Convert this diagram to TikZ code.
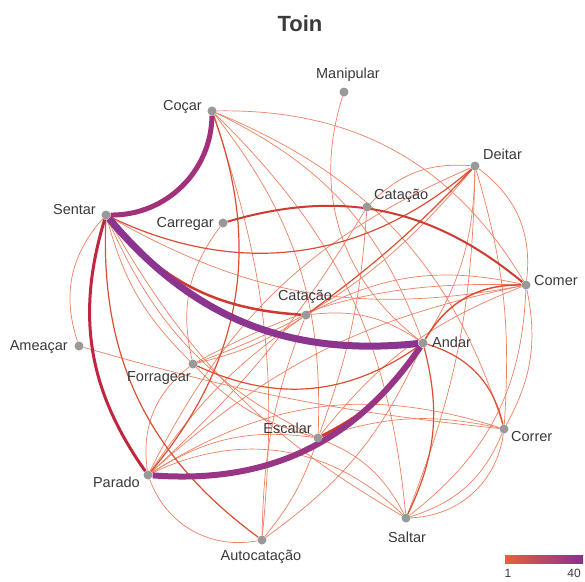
\documentclass[tikz,border=0pt]{standalone}
\usepackage{fontspec}
\setmainfont{Liberation Sans}
\pgfdeclarelayer{bg}
\pgfdeclarelayer{paper}
\pgfsetlayers{paper,bg,main}
\definecolor{edgethin}{HTML}{EF8062}
\definecolor{edgemed}{HTML}{DC4E33}
\definecolor{edgered}{HTML}{CF3B30}
\definecolor{crimsonedge}{HTML}{C0263F}
\definecolor{purpA}{HTML}{8C3590}
\definecolor{purpB}{HTML}{A3307B}
\definecolor{purpC}{HTML}{993585}
\definecolor{dotgray}{HTML}{999999}
\definecolor{txt}{HTML}{3A3A3A}
\definecolor{barlow}{HTML}{E8603C}
\definecolor{barhigh}{HTML}{8B2F8F}
\tikzset{
  dot/.style={circle, fill=dotgray, inner sep=0pt, minimum size=9pt},
  lbl/.style={text=txt, font=\fontsize{14.5}{16}\selectfont, inner sep=0pt},
  thinedge/.style={draw=edgethin, line width=0.7pt},
  mededge/.style={draw=edgemed, line width=1.2pt},
}
\begin{document}
\begin{tikzpicture}[x=1pt,y=1pt]
\begin{pgfonlayer}{paper}
\fill[white] (0,0) rectangle (585,-581);
\end{pgfonlayer}
\useasboundingbox (0,0) rectangle (585,-581);

% title
\node[text=txt, font=\fontsize{22}{26}\selectfont\bfseries] (title) at (300,-24) {Toin};

% nodes
\node[dot] (manip) at (344,-92) {};
\node[dot] (cocar) at (212,-111) {};
\node[dot] (deitar) at (475,-166) {};
\node[dot] (catA) at (367,-207) {};
\node[dot] (sentar) at (106,-215) {};
\node[dot] (carregar) at (223,-223) {};
\node[dot] (comer) at (526,-285) {};
\node[dot] (catB) at (306,-315) {};
\node[dot] (andar) at (423,-343) {};
\node[dot] (ameacar) at (79,-346) {};
\node[dot] (forragear) at (193,-364) {};
\node[dot] (escalar) at (318,-438) {};
\node[dot] (correr) at (504,-429) {};
\node[dot] (parado) at (148,-475) {};
\node[dot] (saltar) at (406,-518) {};
\node[dot] (autocat) at (262,-540) {};

% labels
\node[lbl] (lmanip) at (348,-75) {Manipular};
\node[lbl, anchor=east] (lcocar) at (202,-107) {Coçar};
\node[lbl, anchor=west] (ldeitar) at (483,-154) {Deitar};
\node[lbl, anchor=west] (lcatA) at (374,-196) {Catação};
\node[lbl, anchor=east] (lsentar) at (96,-210) {Sentar};
\node[lbl, anchor=east] (lcarregar) at (214,-224) {Carregar};
\node[lbl, anchor=west] (lcomer) at (534,-281) {Comer};
\node[lbl] (lcatB) at (305,-297) {Catação};
\node[lbl, anchor=west] (landar) at (432,-342) {Andar};
\node[lbl, anchor=east] (lameacar) at (68,-347) {Ameaçar};
\node[lbl, anchor=east] (lforragear) at (191,-378) {Forragear};
\node[lbl, anchor=east] (lescalar) at (312,-428) {Escalar};
\node[lbl, anchor=west] (lcorrer) at (511,-436) {Correr};
\node[lbl, anchor=east] (lparado) at (140,-482) {Parado};
\node[lbl] (lsaltar) at (407,-537) {Saltar};
\node[lbl] (lautocat) at (261,-557) {Autocatação};

% colour bar
\node[inner sep=0pt, minimum width=78pt, minimum height=8pt, left color=barlow, right color=barhigh] (bar) at (544,-559) {};
\node[text=txt, font=\fontsize{12}{14}\selectfont] (bar1) at (508,-573) {1};
\node[text=txt, font=\fontsize{12}{14}\selectfont] (bar40) at (574,-573) {40};

\begin{pgfonlayer}{bg}
% thin edges
\draw[thinedge] (cocar) to[bend left=30] (comer);
\draw[thinedge] (cocar) to[bend left=25] (correr);
\draw[thinedge] (cocar) to[bend left=20] (saltar);
\draw[thinedge] (cocar) to[bend left=22] (andar);
\draw[thinedge] (cocar) to[bend left=20] (escalar);
\draw[thinedge] (cocar) to[bend left=12] (autocat);
\draw[thinedge] (sentar) to[bend right=30] (ameacar);
\draw[thinedge] (sentar) to[bend right=20] (comer);
\draw[thinedge] (sentar) to[bend right=15] (forragear);
\draw[thinedge] (sentar) to[bend right=20] (escalar);
\draw[thinedge] (sentar) to[bend right=15] (saltar);
\draw[thinedge] (parado) to[bend right=40] (autocat);
\draw[thinedge] (parado) to[bend left=35] (saltar);
\draw[thinedge] (parado) to[bend left=25] (correr);
\draw[thinedge] (parado) to[bend left=15] (comer);
\draw[thinedge] (parado) to[bend left=10] (catB);
\draw[thinedge] (deitar) to[bend right=20] (parado);
\draw[thinedge] (parado) to[bend left=20] (escalar);
\draw[thinedge] (parado) to[bend right=8] (catA);
\draw[thinedge] (parado) to[bend left=30] (forragear);
\draw[thinedge] (deitar) to[bend left=15] (andar);
\draw[thinedge] (catB) to[bend left=20] (andar);
\draw[thinedge] (comer) to[bend right=20] (catB);
\draw[thinedge] (comer) to[bend right=15] (forragear);
\draw[thinedge] (comer) to[bend left=20] (correr);
\draw[thinedge] (comer) to[bend left=25] (saltar);
\draw[thinedge] (deitar) to[bend left=30] (comer);
\draw[thinedge] (comer) to[bend right=15] (escalar);
\draw[thinedge] (deitar) to[bend right=25] (catA);
\draw[thinedge] (deitar) to[bend left=10] (correr);
\draw[thinedge] (deitar) to[bend left=10] (saltar);
\draw[thinedge] (deitar) to[bend left=15] (forragear);
\draw[thinedge] (catA) to[bend left=8] (escalar);
\draw[thinedge] (catB) to[bend right=10] (autocat);
\draw[thinedge] (catB) to[bend left=10] (forragear);
\draw[thinedge] (escalar) to[bend left=20] (saltar);
\draw[thinedge] (escalar) to[bend left=15] (correr);
\draw[thinedge] (autocat) to[bend right=15] (andar);
\draw[thinedge] (manip) to[bend right=35] (andar);
\draw[thinedge] (ameacar) to[bend right=5] (correr);
\draw[thinedge] (carregar) to[bend right=25] (forragear);
\draw[thinedge] (forragear) to[bend right=15] (escalar);
\draw[thinedge] (autocat) to[bend right=10] (escalar);
\draw[thinedge] (saltar) to[bend right=25] (correr);
\draw[thinedge] (saltar) to[bend right=40] (correr);
% medium edges
\draw[mededge] (cocar) to[bend left=30] (parado);
\draw[mededge] (deitar) to[bend left=5] (catB);
\draw[mededge] (andar) to[bend left=30] (correr);
\draw[mededge] (andar) to[bend left=20] (saltar);
\draw[mededge] (sentar) to[bend right=28] (autocat);
\draw[mededge] (sentar) to[bend right=33] (deitar);
\draw[mededge] (forragear) to[bend right=30] (andar);
\draw[draw=edgemed, line width=1.5pt] (andar) to[bend left=30] (comer);
\draw[draw=edgered, line width=2pt] (carregar) to[bend left=28] (comer);
\draw[draw=edgered, line width=2.5pt] (sentar) to[bend right=23] (catB);
\draw[draw=crimsonedge, line width=3pt] (sentar) to[bend right=26] (parado);
\draw[draw=edgered, line width=3pt] (andar) to[bend left=15] (escalar);
% thick edges
\draw[draw=purpB, line width=5pt] (cocar) to[bend left=45] (sentar);
\draw[draw=purpC, line width=6pt] (andar) to[bend left=30] (parado);
\draw[draw=purpA, line width=7pt] (sentar) to[bend right=28] (andar);
\end{pgfonlayer}
\end{tikzpicture}
\end{document}
